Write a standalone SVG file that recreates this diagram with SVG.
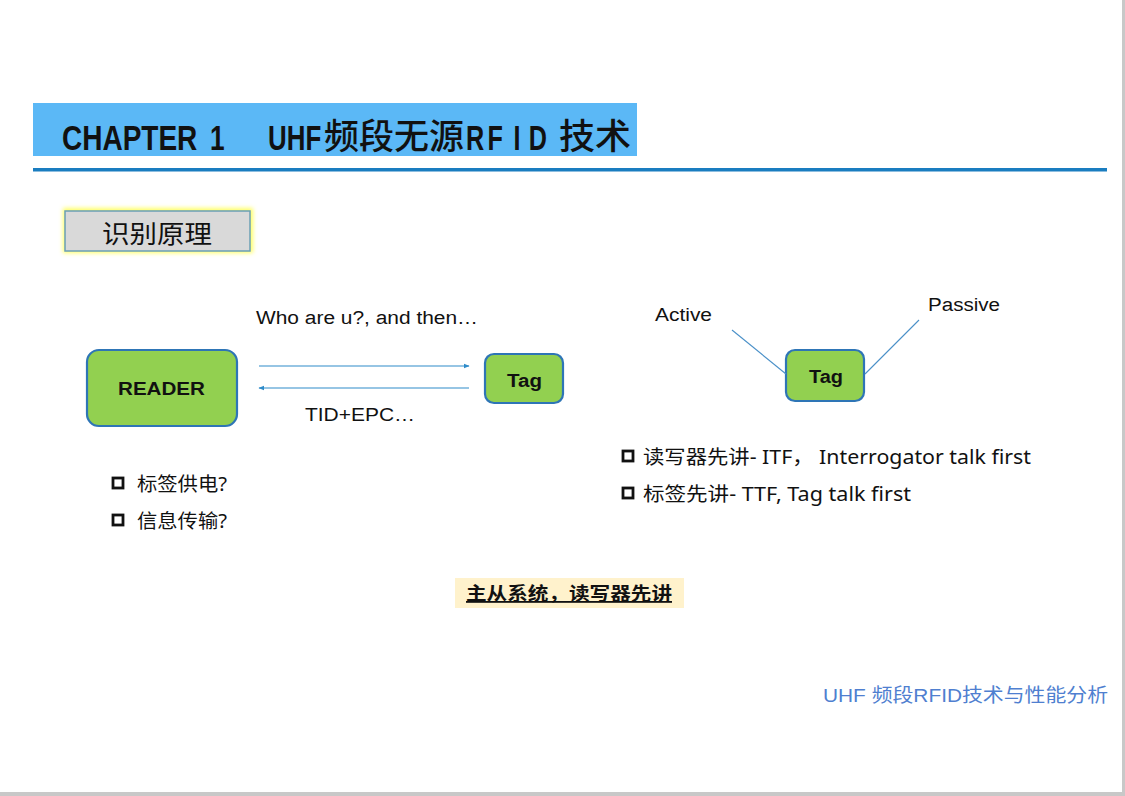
<svg xmlns="http://www.w3.org/2000/svg" width="1125" height="796" viewBox="0 0 1125 796">
<style>
.node{fill:#92D050;stroke:#2E75B6;stroke-width:2.2}
.nl{font-family:"Liberation Sans",Arial,sans-serif;font-weight:bold;fill:#111}
.lbl{font-family:"Liberation Sans",Arial,sans-serif;font-size:18px;fill:#111}
.bul{font-family:"Noto Sans","Noto Sans CJK SC",sans-serif;font-size:19px;fill:#111}
.box{fill:none;stroke:#111;stroke-width:2.8}
.conn{stroke:#2E8BC9;stroke-width:1.2;fill:none}
.line{stroke:#4A90C8;stroke-width:1.1;fill:none}
.tl{font-family:"Liberation Sans",Arial,sans-serif;font-weight:bold;font-size:35px;fill:#111}
.tc{font-family:"Noto Sans CJK SC",sans-serif;font-weight:500;font-size:35px;fill:#111}
</style>
<defs>
<marker id="arr" viewBox="0 0 10 10" refX="9" refY="5" markerWidth="6" markerHeight="6" orient="auto-start-reverse" markerUnits="userSpaceOnUse">
<path d="M0,1 L10,5 L0,9 z" fill="#2E8BC9"/>
</marker>
<filter id="glow" x="-10%" y="-30%" width="120%" height="160%">
<feGaussianBlur stdDeviation="2"/>
</filter>
</defs>
<rect width="1125" height="796" fill="#ffffff"/>
<rect x="1122" y="0" width="3" height="796" fill="#C8C8C8"/>
<rect x="0" y="792" width="1125" height="4" fill="#C8C8C8"/>

<g id="title">
<rect x="33" y="103" width="604" height="53" fill="#5BB8F6"/>
<text class="tl" transform="translate(62,150) scale(0.8,1)" x="0" y="0">CHAPTER</text>
<text class="tl" transform="translate(210,150) scale(0.75,1)" x="0" y="0">1</text>
<text class="tl" transform="translate(268,150) scale(0.74,1)" x="0" y="0">UHF</text>
<text class="tc" x="324" y="149" textLength="140" lengthAdjust="spacingAndGlyphs">频段无源</text>
<text class="tl" transform="translate(466,150) scale(0.72,1)" x="0 30 66 87" y="0">RFID</text>
<text class="tc" x="559" y="149" textLength="72" lengthAdjust="spacingAndGlyphs">技术</text>
<rect x="33" y="168" width="1074" height="3.5" fill="#1A7DC0"/>
</g>

<g id="section">
<rect x="63" y="208" width="190" height="45" fill="#FFFF66" filter="url(#glow)"/>
<rect x="65" y="211" width="185" height="40" fill="#D9D9D9" stroke="#6A9FB5" stroke-width="1.5"/>
<text x="102" y="243" font-family="'Noto Sans CJK SC',sans-serif" font-size="25" fill="#111" textLength="110" lengthAdjust="spacingAndGlyphs">识别原理</text>
</g>

<g id="reader">
<rect class="node" x="87" y="350" width="150" height="76" rx="12"/>
<text class="nl" x="118" y="395" font-size="18" textLength="87" lengthAdjust="spacingAndGlyphs">READER</text>
</g>

<g id="tag1">
<rect class="node" x="485" y="354" width="78" height="49" rx="9"/>
<text class="nl" x="507" y="387" font-size="18" textLength="35" lengthAdjust="spacingAndGlyphs">Tag</text>
</g>

<g id="tag2">
<rect class="node" x="786" y="350" width="78" height="51" rx="9"/>
<text class="nl" x="809" y="383" font-size="18" textLength="34" lengthAdjust="spacingAndGlyphs">Tag</text>
</g>

<g id="connectors">
<line class="conn" x1="259" y1="366" x2="469" y2="366" marker-end="url(#arr)"/>
<line class="conn" x1="469" y1="388" x2="259" y2="388" marker-end="url(#arr)"/>
<line class="line" x1="732" y1="330" x2="786" y2="374"/>
<line class="line" x1="919" y1="320" x2="865" y2="374"/>
</g>

<g id="labels">
<text class="lbl" x="256" y="324" textLength="222" lengthAdjust="spacingAndGlyphs">Who are u?, and then…</text>
<text class="lbl" x="305" y="421" textLength="110" lengthAdjust="spacingAndGlyphs">TID+EPC…</text>
<text class="lbl" x="655" y="321" textLength="57" lengthAdjust="spacingAndGlyphs">Active</text>
<text class="lbl" x="928" y="311" textLength="72" lengthAdjust="spacingAndGlyphs">Passive</text>
</g>

<g id="bullets-left">
<rect class="box" x="113" y="478" width="10" height="10"/>
<text class="bul" x="137" y="491" textLength="90" lengthAdjust="spacingAndGlyphs">标签供电?</text>
<rect class="box" x="113" y="515" width="10" height="10"/>
<text class="bul" x="137" y="528" textLength="90" lengthAdjust="spacingAndGlyphs">信息传输?</text>
</g>

<g id="bullets-right">
<rect class="box" x="623" y="451" width="10" height="10"/>
<text class="bul" x="643" y="464" textLength="388" lengthAdjust="spacingAndGlyphs">读写器先讲- ITF，  Interrogator talk first</text>
<rect class="box" x="623" y="488" width="10" height="10"/>
<text class="bul" x="643" y="501" textLength="268" lengthAdjust="spacingAndGlyphs">标签先讲- TTF, Tag talk first</text>
</g>

<g id="conclusion">
<rect x="455" y="578" width="229" height="30" fill="#FFF2CC"/>
<text x="466" y="600" font-family="'Noto Sans CJK SC',sans-serif" font-weight="bold" font-size="18" fill="#111" text-decoration="underline" textLength="206" lengthAdjust="spacingAndGlyphs">主从系统，读写器先讲</text>
</g>

<g id="footer">
<text x="823" y="702" font-family="'Liberation Sans','Noto Sans CJK SC',sans-serif" font-size="19" fill="#4F7FD0" textLength="285" lengthAdjust="spacingAndGlyphs">UHF 频段RFID技术与性能分析</text>
</g>
</svg>
